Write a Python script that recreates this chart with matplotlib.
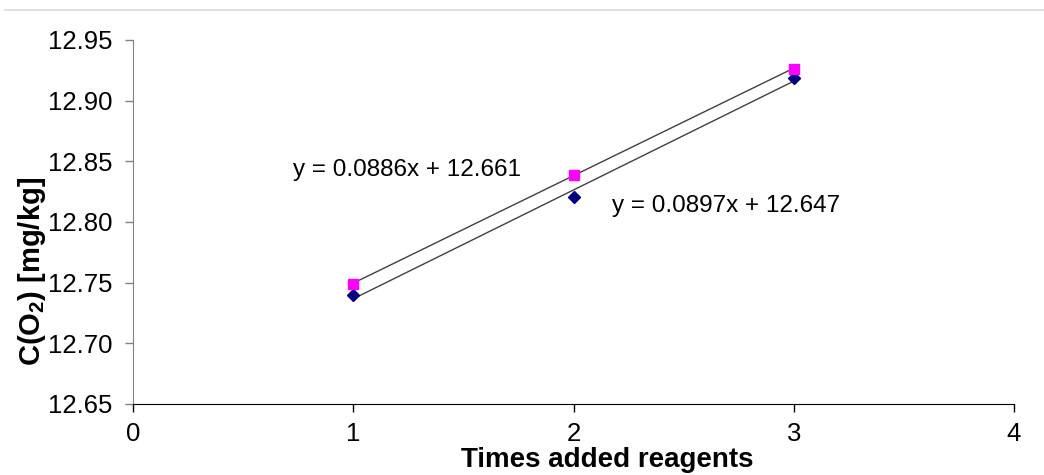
import numpy as np
import matplotlib.pyplot as plt
from matplotlib.lines import Line2D

plt.rcParams['font.family'] = ['Liberation Sans', 'DejaVu Sans']
plt.rcParams['mathtext.fontset'] = 'custom'
plt.rcParams['mathtext.rm'] = 'Liberation Sans'
plt.rcParams['mathtext.bf'] = 'Liberation Sans:bold'

# measurements after each reagent addition
times = [1, 2, 3]
series_a = [12.740, 12.821, 12.919]   # diamonds
series_b = [12.749, 12.839, 12.926]   # squares

# linear trend coefficients (slope, intercept)
fit_a = (0.0897, 12.647)
fit_b = (0.0886, 12.661)

x_ticks = [0, 1, 2, 3, 4]
y_ticks = [12.65, 12.70, 12.75, 12.80, 12.85, 12.90, 12.95]

fig = plt.figure(figsize=(10.44, 4.75), dpi=100)
ax = fig.add_axes([0.1274, 0.1495, 0.8439, 0.7663])

# thin rule across the top of the image
fig.add_artist(Line2D([0.005, 1.0], [0.979, 0.979], color='#d9d9d9', lw=1.2,
                      transform=fig.transFigure))

xs = np.array([times[0], times[-1]], dtype=float)
ax.plot(xs, fit_b[0] * xs + fit_b[1], color='#404040', lw=1.0, zorder=2)
ax.plot(xs, fit_a[0] * xs + fit_a[1], color='#404040', lw=1.0, zorder=2)

ax.plot(times, series_a, linestyle='none', marker='D', markersize=6,
        color='#000080', zorder=3)
ax.plot(times, series_b, linestyle='none', marker='s', markersize=7.5,
        color='#ff00ff', zorder=3)

ax.text(1.244, 12.843, 'y = %.4fx + %.3f' % fit_b, fontsize=17.5,
        ha='center', va='center')
ax.text(2.692, 12.8135, 'y = %.4fx + %.3f' % fit_a, fontsize=17.5,
        ha='center', va='center')

ax.set_xlim(0, 4)
ax.set_ylim(12.65, 12.95)
ax.set_xticks(x_ticks)
ax.set_yticks(y_ticks)
ax.set_yticklabels(['%.2f' % v for v in y_ticks])
ax.tick_params(axis='both', labelsize=18.5, direction='out', length=6, width=1)
ax.tick_params(axis='y', colors='#808080', labelcolor='black', pad=9)
ax.tick_params(axis='x', colors='black', pad=7)

for side in ['top', 'right']:
    ax.spines[side].set_visible(False)
ax.spines['left'].set_color('#808080')
ax.spines['bottom'].set_color('black')

ax.set_xlabel('Times added reagents', fontsize=20, fontweight='bold')
ax.set_ylabel(r'C(O$_\mathbf{2}$) [mg/kg]', fontsize=21, fontweight='bold')
ax.xaxis.set_label_coords(0.538, -0.118)
ax.yaxis.set_label_coords(-0.097, 0.363)

fig.savefig('out.png', dpi=100)
